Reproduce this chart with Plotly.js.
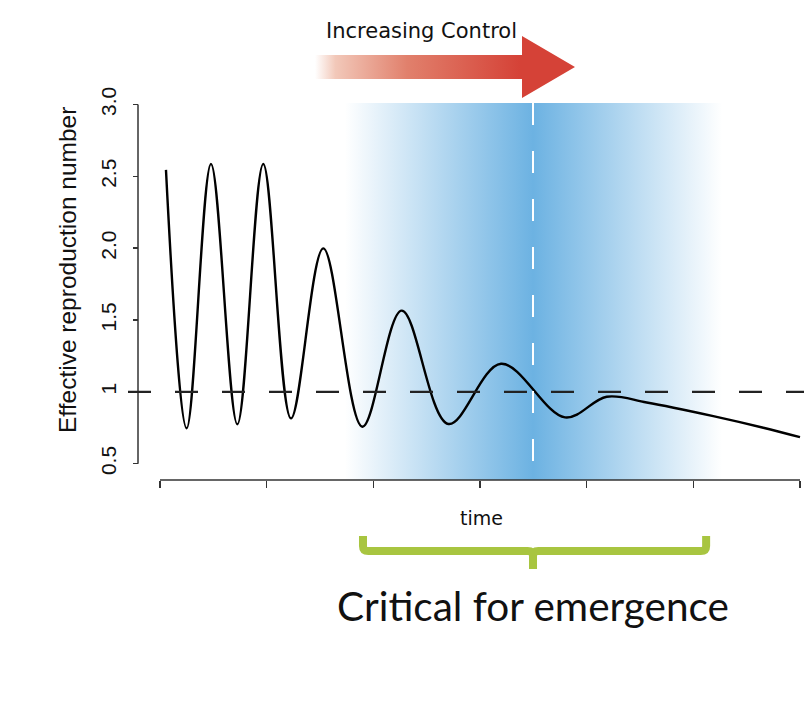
<!DOCTYPE html>
<html>
<head>
<meta charset="utf-8">
<script src="https://cdn.plot.ly/plotly-3.0.1.min.js"></script>
<style>
  html, body { margin: 0; padding: 0; background: #fff; }
  #chart { width: 804px; height: 704px; }
</style>
</head>
<body>
<div id="chart"></div>
<script>
// Effective reproduction number over time, with the "critical for emergence" window.
// Values (time axis 0..60, ticks every 10):
// start point, then the turning points of the damped oscillation, then the slow tail.

const TIME = [0.56, 2.50, 4.78, 7.25, 9.68, 12.28, 15.31, 18.97, 22.66, 27.03,
  31.97, 37.97, 41.88, 45.63, 51.87, 56.56, 60];
const REFF = [2.545, 0.746, 2.586, 0.774, 2.586, 0.815, 1.999, 0.757, 1.565, 0.776,
  1.195, 0.822, 0.966, 0.926, 0.831, 0.750, 0.684];

const X_TICKS = [0, 10, 20, 30, 40, 50, 60];
const Y_TICKS = [0.5, 1, 1.5, 2, 2.5, 3];
const Y_TICK_TEXT = ['0.5', '1', '1.5', '2.0', '2.5', '3.0'];
const THRESHOLD = 1;

// critical window (time units): fade in, peak where Reff crosses 1, fade out
const WINDOW_START = 17.34, WINDOW_PEAK = 34.97, WINDOW_END = 52.7;
const BRACKET_START = 19.03, BRACKET_END = 51.2;

// ---- page geometry (pixels) -------------------------------------------------
const W = 804, H = 704;
const px = (x) => x / W, py = (y) => 1 - y / H;
const X_RANGE = [-3, 60.375], Y_RANGE = [0.386, 3.011];

const AX_FONT = 'Liberation Sans, Arial, sans-serif';
const LBL_FONT = 'DejaVu Sans, sans-serif';

const band = {
  x: [WINDOW_START, WINDOW_END, WINDOW_END, WINDOW_START, WINDOW_START],
  y: [Y_RANGE[0], Y_RANGE[0], Y_RANGE[1], Y_RANGE[1], Y_RANGE[0]],
  mode: 'none', fill: 'toself', hoverinfo: 'skip',
  fillgradient: {
    type: 'horizontal', start: WINDOW_START, stop: WINDOW_END,
    colorscale: [[0, 'rgb(255,255,255)'],
      [(WINDOW_PEAK - WINDOW_START) / (WINDOW_END - WINDOW_START), 'rgb(108,178,226)'],
      [1, 'rgb(255,255,255)']],
  },
};

const curve = {
  x: TIME, y: REFF, mode: 'lines', hoverinfo: 'skip',
  line: { color: '#000', width: 2.4, shape: 'spline', smoothing: 1 },
};

// arrow "Increasing Control" lives in a full-page pixel frame (x2/y2)
const arrow = {
  x: [315, 522, 522, 575, 522, 522, 315, 315],
  y: [55, 55, 36, 67, 98, 79, 79, 55],
  xaxis: 'x2', yaxis: 'y2', mode: 'none', fill: 'toself', hoverinfo: 'skip',
  fillgradient: {
    type: 'horizontal', start: 315, stop: 520,
    colorscale: [[0, 'rgb(255,255,255)'], [0.1, 'rgb(242,200,185)'],
      [0.45, 'rgb(225,128,108)'], [1, 'rgb(213,66,55)']],
  },
};

const shapes = [
  // R-style axis lines that stop at the outer ticks
  { type: 'line', xref: 'paper', yref: 'y', x0: px(138), x1: px(138), y0: 0.5, y1: 3,
    line: { color: '#333', width: 1.5 } },
  { type: 'line', xref: 'x', yref: 'paper', x0: 0, x1: 60, y0: py(480), y1: py(480),
    line: { color: '#333', width: 1.5 } },
  // threshold R = 1
  { type: 'line', xref: 'paper', yref: 'y', x0: px(128), x1: 1, y0: THRESHOLD, y1: THRESHOLD,
    line: { color: '#222', width: 2.2, dash: '23px,24px' } },
  // white dashed marker at the window peak
  { type: 'line', xref: 'x', yref: 'paper', x0: WINDOW_PEAK, x1: WINDOW_PEAK, y0: py(103), y1: py(480),
    line: { color: '#fff', width: 2, dash: '22px,26px' } },
  // green bracket under the axis
  { type: 'path', xref: 'x', yref: 'paper',
    path: bracketPath(BRACKET_START, BRACKET_END, WINDOW_PEAK),
    line: { color: '#a8c540', width: 8 } },
];

function bracketPath(a, b, mid) {
  const top = py(536), bar = py(551), tip = py(569), r = 0.5, ry = 5 / H;
  return `M ${a} ${top} L ${a} ${bar + ry} Q ${a} ${bar} ${a + r} ${bar} L ${mid - r} ${bar} ` +
    `Q ${mid} ${bar} ${mid} ${bar - ry} L ${mid} ${tip} M ${mid} ${bar - ry} Q ${mid} ${bar} ${mid + r} ${bar} ` +
    `L ${b - r} ${bar} Q ${b} ${bar} ${b} ${bar + ry} L ${b} ${top}`;
}

const annotations = [
  { xref: 'paper', yref: 'paper', x: px(67), y: py(270), xanchor: 'center', yanchor: 'middle',
    text: 'Effective reproduction number', textangle: -90, showarrow: false,
    font: { family: AX_FONT, size: 24.5, color: '#111' } },
  { xref: 'x2', yref: 'y2', x: 481, y: 518, text: 'time', showarrow: false,
    font: { family: LBL_FONT, size: 19, color: '#111' } },
  { xref: 'x2', yref: 'y2', x: 421, y: 31, text: 'Increasing Control', showarrow: false,
    font: { family: LBL_FONT, size: 21, color: '#111' } },
  { xref: 'x2', yref: 'y2', x: 533, y: 605, text: 'Critical for emergence', showarrow: false,
    font: { family: 'Lato, sans-serif', size: 40.5, color: '#111' } },
];

const layout = {
  width: W, height: H, margin: { l: 0, r: 0, t: 0, b: 0 },
  paper_bgcolor: '#fff', plot_bgcolor: 'rgba(0,0,0,0)', showlegend: false,
  xaxis: {
    domain: [px(128), 1], range: X_RANGE, anchor: 'y',
    tickvals: X_TICKS, showticklabels: false, ticks: 'outside', ticklen: 7,
    tickwidth: 1.5, tickcolor: '#333', showgrid: false, zeroline: false, showline: false,
  },
  yaxis: {
    domain: [py(480), py(103)], range: Y_RANGE, anchor: 'free', position: px(138),
    tickvals: Y_TICKS, ticktext: Y_TICK_TEXT, tickangle: -90, ticks: 'outside', ticklen: 5,
    tickwidth: 1.5, tickcolor: '#333', ticklabelstandoff: 9,
    tickfont: { family: AX_FONT, size: 21, color: '#111' },
    showgrid: false, zeroline: false, showline: false,
  },
  xaxis2: { domain: [0, 1], range: [0, W], anchor: 'y2', visible: false },
  yaxis2: { domain: [0, 1], range: [H, 0], anchor: 'x2', visible: false },
  shapes, annotations,
};

Plotly.newPlot('chart', [band, curve, arrow], layout, { staticPlot: true, displayModeBar: false });
</script>
</body>
</html>
